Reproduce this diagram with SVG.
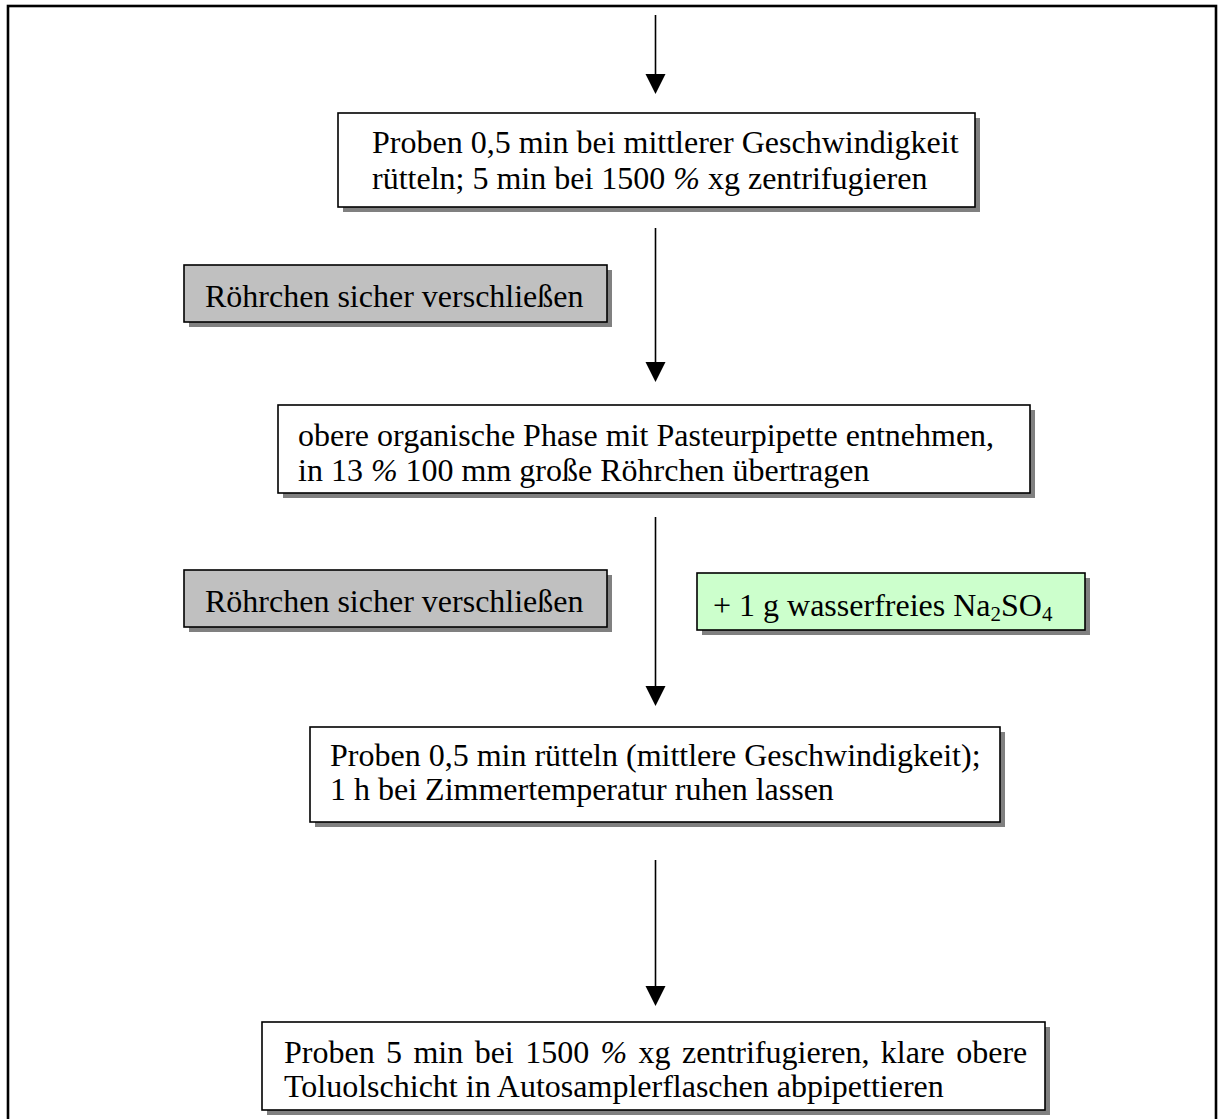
<svg xmlns="http://www.w3.org/2000/svg" width="1218" height="1119" viewBox="0 0 1218 1119">
  <defs>
    <style>
      .frame { fill: none; stroke: #000; stroke-width: 2.6; }
      .shadow { fill: #808080; }
      .box { stroke: #000; stroke-width: 1.6; }
      .white { fill: #fff; }
      .grey { fill: #c0c0c0; }
      .green { fill: #ccffcc; }
      .t { font-family: "Liberation Serif", "Times New Roman", serif; font-size: 32px; fill: #000; }
      .pct { font-style: italic; }
      .sub { font-size: 21px; }
      .conn line { stroke: #000; stroke-width: 1.6; }
      .conn polygon { fill: #000; }
    </style>
  </defs>

  <rect x="0" y="0" width="1218" height="1119" fill="#fff"/>
  <!-- outer frame -->
  <rect class="frame" x="8" y="6" width="1208" height="1130"/>

  <!-- connectors -->
  <g id="connectors" class="conn">
    <line x1="655.5" y1="15" x2="655.5" y2="76"/>
    <polygon points="645.5,74 665.5,74 655.5,94"/>
    <line x1="655.5" y1="228" x2="655.5" y2="364"/>
    <polygon points="645.5,362 665.5,362 655.5,382"/>
    <line x1="655.5" y1="517" x2="655.5" y2="688"/>
    <polygon points="645.5,686 665.5,686 655.5,706"/>
    <line x1="655.5" y1="860" x2="655.5" y2="988"/>
    <polygon points="645.5,986 665.5,986 655.5,1006"/>
  </g>

  <!-- step 1 -->
  <g id="step1">
    <rect class="shadow" x="343" y="118" width="637" height="94"/>
    <rect class="box white" x="338" y="113" width="637" height="94"/>
    <text class="t" x="372" y="153">Proben 0,5 min bei mittlerer Geschwindigkeit</text>
    <text class="t" x="372" y="189">rütteln; 5 min bei 1500 <tspan class="pct">%</tspan> xg zentrifugieren</text>
  </g>

  <!-- seal tubes (first) -->
  <g id="seal1">
    <rect class="shadow" x="189" y="270" width="423" height="57"/>
    <rect class="box grey" x="184" y="265" width="423" height="57"/>
    <text class="t" x="205" y="307">Röhrchen sicher verschließen</text>
  </g>

  <!-- step 2 -->
  <g id="step2">
    <rect class="shadow" x="283" y="410" width="752" height="88"/>
    <rect class="box white" x="278" y="405" width="752" height="88"/>
    <text class="t" x="298" y="446">obere organische Phase mit Pasteurpipette entnehmen,</text>
    <text class="t" x="298" y="481">in 13 <tspan class="pct">%</tspan> 100 mm große Röhrchen übertragen</text>
  </g>

  <!-- seal tubes (second) -->
  <g id="seal2">
    <rect class="shadow" x="189" y="575" width="423" height="57"/>
    <rect class="box grey" x="184" y="570" width="423" height="57"/>
    <text class="t" x="205" y="612">Röhrchen sicher verschließen</text>
  </g>

  <!-- sodium sulfate addition -->
  <g id="addNa2SO4">
    <rect class="shadow" x="702" y="578" width="388" height="57"/>
    <rect class="box green" x="697" y="573" width="388" height="57"/>
    <text class="t" x="713" y="616">+ 1 g wasserfreies Na<tspan class="sub" dy="5">2</tspan><tspan dy="-5">SO</tspan><tspan class="sub" dy="5">4</tspan></text>
  </g>

  <!-- step 3 -->
  <g id="step3">
    <rect class="shadow" x="315" y="732" width="690" height="95"/>
    <rect class="box white" x="310" y="727" width="690" height="95"/>
    <text class="t" x="330" y="766">Proben 0,5 min rütteln (mittlere Geschwindigkeit);</text>
    <text class="t" x="330" y="800">1 h bei Zimmertemperatur ruhen lassen</text>
  </g>

  <!-- step 4 -->
  <g id="step4">
    <rect class="shadow" x="267" y="1027" width="783" height="88"/>
    <rect class="box white" x="262" y="1022" width="783" height="88"/>
    <text class="t" x="284" y="1063" word-spacing="3.4">Proben 5 min bei 1500 <tspan class="pct">%</tspan> xg zentrifugieren, klare obere</text>
    <text class="t" x="284" y="1097">Toluolschicht in Autosamplerflaschen abpipettieren</text>
  </g>
</svg>
